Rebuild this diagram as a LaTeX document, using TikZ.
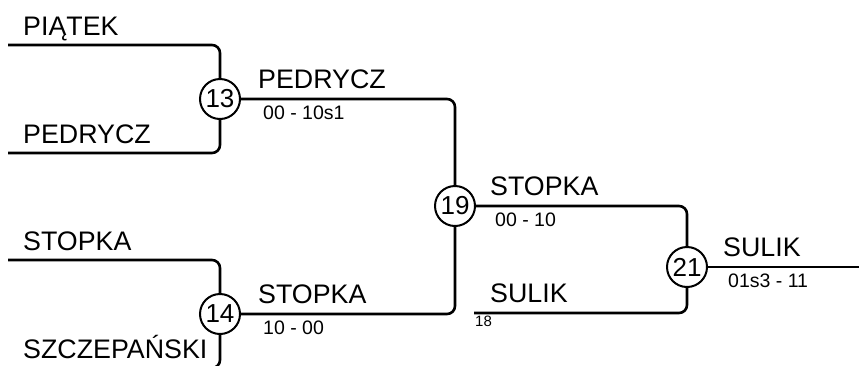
\documentclass[tikz,border=0pt]{standalone}
\usepackage{fontspec}
\setmainfont{Liberation Sans}
\usetikzlibrary{positioning,calc}

\begin{document}
\begin{tikzpicture}[
  x=1pt, y=-1pt,
  match/.style={circle, draw, line width=2pt, fill=white, inner sep=0pt, minimum size=40pt, font=\fontsize{26}{26}\selectfont},
  team/.style={anchor=base west, inner sep=0pt, font=\fontsize{26.8}{26.8}\selectfont},
  score/.style={anchor=base west, inner sep=0pt, font=\fontsize{19.5}{19.5}\selectfont},
  seed/.style={anchor=north west, inner sep=0pt, font=\fontsize{15}{15}\selectfont},
  bracket/.style={line width=2.6pt, rounded corners=8pt}
]
\clip (0,0) rectangle (859,365);

% Matches
\node[match] (m13) at (220,99) {13};
\node[match] (m14) at (220,314) {14};
\node[match] (m19) at (455,206) {19};
\node[match] (m21) at (687,267) {21};

% Line ends
\coordinate (e-piatek) at (8,45);
\coordinate (e-pedrycz) at (8,153);
\coordinate (e-stopka) at (8,260);
\coordinate (e-szcz) at (8,368);
\coordinate (e-sulik) at (474,313);
\coordinate (final) at (859,267);

% Round 1
\node[team] (t-piatek) at (23,35) {PIĄTEK};
\node[team] (t-pedrycz) at (23,143) {PEDRYCZ};
\node[team] (t-stopka) at (23,250) {STOPKA};
\node[team] (t-szcz) at (23,358) {SZCZEPAŃSKI};

% Round 2
\node[team] (w13) at (258,88) {PEDRYCZ};
\node[score] (s13) at (263,119) {00 - 10s1};
\node[team] (w14) at (258,303) {STOPKA};
\node[score] (s14) at (263,334) {10 - 00};

% Round 3
\node[team] (w19) at (490,195) {STOPKA};
\node[score] (s19) at (495,226) {00 - 10};
\node[team] (t-sulik) at (490,302) {SULIK};
\node[seed] (n18) at (475,316) {18};

% Final
\node[team] (w21) at (723,256) {SULIK};
\node[score] (s21) at (728,287) {01s3 - 11};

% Connections
\draw[bracket] (e-piatek) -| (m13);
\draw[bracket] (e-pedrycz) -| (m13);
\draw[bracket] (e-stopka) -| (m14);
\draw[bracket] (e-szcz) -| (m14);
\draw[bracket] (m13) -| (m19);
\draw[bracket] (m14) -| (m19);
\draw[bracket] (m19) -| (m21);
\draw[bracket] (e-sulik) -| (m21);
\draw[bracket] (m21) -- (final);

\end{tikzpicture}
\end{document}
